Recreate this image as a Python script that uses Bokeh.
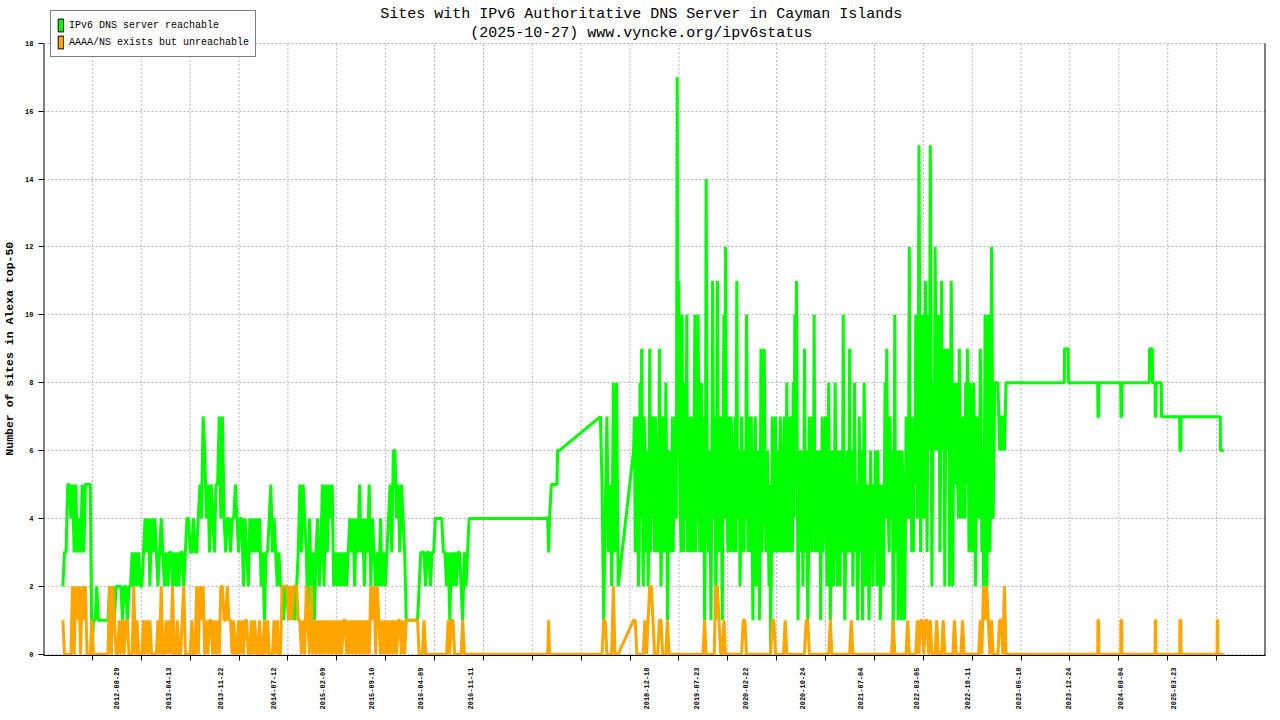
import math
import pandas as pd
from bokeh.plotting import figure
from bokeh.models import (ColumnDataSource, FixedTicker, Range1d, Legend,
                          LegendItem, Label)
from bokeh.embed import file_html
from bokeh.resources import INLINE

# ---------------- data ----------------
title_lines = ["Sites with IPv6 Authoritative DNS Server in Cayman Islands",
               "(2025-10-27) www.vyncke.org/ipv6status"]
y_label = "Number of sites in Alexa top-50"
series_names = ["IPv6 DNS server reachable", "AAAA/NS exists but unreachable"]

x_start = "2011-10-17"
x_end = "2026-04-26 12:00"
y_ticks = [0, 2, 4, 6, 8, 10, 12, 14, 16, 18]
tick_labels = ["2012-08-29", "2013-04-13", "2013-11-22", "2014-07-12", "2015-02-09",
               "2015-09-10", "2016-04-09", "2016-11-11", "2018-12-18", "2019-07-23",
               "2020-02-22", "2020-10-24", "2021-07-04", "2022-03-05", "2022-10-11",
               "2023-05-18", "2023-12-24", "2024-08-04", "2025-03-23"]

# segment A: weekly samples from 2012-01-09
seg_a_start = "2012-01-09"
green_a = [2, 3, 3, 5, 5, 4, 5, 3, 5, 3, 4, 3, 5, 3, 5, 5, 5, 5, 0,
           1, 1, 2, 1, 1, 1, 1, 1, 1, 1, 2, 0, 2, 1, 2, 2,
           2, 2, 1, 2, 2, 1, 2, 2, 3, 2, 3, 2, 3, 2, 2, 3,
           4, 3, 4, 2, 4, 3, 4,
           3, 2, 3, 4, 3, 2, 3, 2, 3, 3, 2, 3, 2, 3, 2, 3, 3, 2, 3,
           4, 4, 3, 3, 4, 3, 3, 4,
           5, 4, 7, 6, 4, 5, 3, 5, 4, 3, 5, 5, 7, 4, 7,
           4, 3, 4, 4, 3, 4, 4, 5, 4, 3, 4,
           4, 2, 4, 3, 2, 4, 3, 4, 3, 4, 3, 4,
           2, 3, 1, 3, 3, 4, 5, 3, 4, 3, 2, 3, 2,
           2, 1, 2, 2, 1, 2, 1, 2, 1, 2,
           3, 5, 3, 5, 4, 3, 1, 4, 2, 3, 1, 3, 4, 2, 3,
           5, 2, 5, 3, 5, 4, 5, 2, 3,
           2, 3, 2, 3, 2, 3, 2, 3,
           4, 3, 4, 2, 4, 3, 5, 3, 4, 2, 4, 3, 5, 2, 4,
           3, 2, 3, 2, 4, 2, 3, 2, 3,
           4, 5, 3, 6, 6, 4, 5, 3, 5, 4, 3,
           1, 1, 1, 1, 1, 1, 1, 1, 2, 3, 3,
           3, 2, 3, 3, 2, 3, 3, 4, 4, 4, 4, 4, 3,
           3, 2, 3, 1, 3, 2, 3, 2, 3, 3, 2, 1, 3, 2, 3]
orange_a = [1, 0, 0, 0, 0, 0, 2, 0, 2, 1, 2, 0, 2, 1, 2, 0, 0, 0, 1, 0,
            0, 0, 0, 0, 0, 0, 0, 0, 0, 2, 0, 2, 1,
            0, 0, 1, 0, 1, 0, 1, 1, 0, 0, 0, 2, 0, 1, 0, 0,
            0, 1, 0, 1, 0, 1, 0, 0, 0, 0, 1, 0, 2, 0,
            0, 1, 0, 1, 0, 2, 0, 0, 1, 0, 0, 1, 2, 0, 0, 0, 0, 1, 0, 0,
            2, 0, 2, 1, 2, 0, 1, 0, 1, 1, 0, 1, 0, 1, 0, 2, 2,
            1, 1, 2, 1, 1, 0, 1, 0, 0, 1, 0,
            1, 0, 1, 1, 0, 0, 1, 0, 1, 0, 0, 1,
            0, 0, 1, 0, 1, 0, 0, 0, 1, 0, 1, 0, 0,
            2, 2, 2, 2, 1, 2, 1, 2, 2, 2, 1, 1,
            0, 1, 0, 2, 1, 0, 2, 0, 1, 0, 1, 0, 1, 0, 1, 0, 1, 0, 1, 0, 1, 0,
            1, 0, 1, 0, 1, 1, 0, 1, 0, 1, 0, 1, 0, 1, 0, 1, 0, 1, 0, 1,
            0, 2, 1, 2, 0, 2, 1, 0, 1,
            0, 1, 0, 1, 0, 1, 0, 1, 0, 1, 1, 0, 1, 0,
            1, 1, 1, 1, 1, 1, 1, 1,
            0, 0, 0, 1, 0, 0, 0, 0, 0, 0, 0, 0, 0, 0, 0, 0, 0, 0,
            1, 0, 1, 1, 0, 0, 0, 0, 0, 1, 0, 0, 0]

# segment B: sparse points across the 2016-2018 plateau
seg_b_dates = ["2016-11-07", "2017-10-14", "2017-10-18", "2017-10-22",
               "2017-10-30", "2017-11-23", "2017-11-26", "2017-12-03"]
green_b = [4, 4, 3, 4, 5, 5, 6, 6]
orange_b = [0, 0, 1, 0, 0, 0, 0, 0]

# segment C: weekly samples from 2018-05-31
seg_c_start = "2018-05-31"
green_c = [7, 5, 1, 4, 7, 3, 5, 2, 8, 3, 8, 2]
orange_c = [0, 0, 1, 1, 0, 0, 0, 0, 2, 0, 0, 0]

# segment D: weekly samples from 2018-10-22 (green also has mid-week readings)
seg_d_start = "2018-10-22"
green_d = [6, 3, 7, 2, 8, 9, 2, 6, 4, 2, 9, 5, 7, 3, 6, 4, 9, 2, 7, 3,
           8, 1, 6, 4, 7, 5, 7, 17, 11, 4, 10, 3, 8, 10, 5, 3,
           7, 4, 10, 5, 10, 3, 8, 5, 1, 14, 4,
           6, 1, 11, 4, 1, 11, 3, 7, 1, 10, 12, 4, 7, 3,
           6, 3, 7, 11, 5, 2, 7, 4, 6, 10, 3, 6,
           7, 1, 5, 2, 6, 1, 9, 4, 9, 3, 6, 2, 0, 7, 3, 7, 4,
           3, 7, 4, 6, 3, 8, 5, 7, 4, 8, 10, 11, 1, 6,
           5, 2, 9, 4, 1, 7, 4, 7, 10, 5, 6, 3, 1, 7, 4,
           7, 2, 8, 1, 6, 2, 8, 3, 6, 2, 5, 10, 1,
           5, 3, 9, 4, 2, 8, 3, 1, 7, 4, 1, 8, 2, 5,
           1, 6, 3, 5, 6, 2, 4, 1, 5, 2, 8, 9, 4, 7, 4, 0, 10, 5,
           1, 6, 1, 5, 1, 7, 4, 12, 7, 5, 7, 10, 4,
           15, 3, 10, 4, 11, 3, 10, 15, 2,
           8, 12, 6, 10, 3, 11, 7, 2, 9, 7, 2, 11, 2, 8, 7,
           5, 9, 4, 7, 5, 8, 9, 3, 8, 3, 8, 2, 7,
           6, 9, 3, 2, 10, 2, 10, 3, 12, 4,
           8, 8, 8, 6, 7, 7, 6, 8]
green_d_mid = [7, 4, 6, 3, 4, 5, 7, 3, 6, 4,
               3, 4, 6, 7, 3, 3, 5, 4, 6, 4,
               5, 3, 3, 3, 3, 4, 4, 7, 6, 3,
               6, 5, 4, 3, 7, 5, 3, 6, 3, 4,
               6, 5, 3, 7, 4, 7, 3, 4, 5, 6,
               7, 4, 6, 5, 4, 6, 4, 7, 3, 6,
               7, 4, 5, 3, 4, 6, 4, 3, 3, 4,
               6, 7, 3, 4, 6, 7, 3, 5, 4, 3,
               5, 6, 5, 4, 5, 3, 5, 4, 3, 6,
               5, 3, 3, 7, 4, 3, 3, 6, 3, 4,
               5, 6, 4, 3, 6, 4, 3, 6, 3, 5,
               3, 4, 3, 3, 5, 6, 4, 3, 5, 4,
               5, 4, 3, 5, 4, 5, 2, 4, 6, 3,
               5, 3, 6, 4, 3, 6, 4, 5, 5, 3,
               3, 6, 4, 5, 4, 3, 3, 4, 2, 3,
               4, 6, 5, 3, 4, 5, 4, 6, 3, 5,
               6, 4, 3, 6, 4, 3, 6, 4, 3, 6,
               5, 4, 3, 3, 5, 8, 7, 9, 6, 8,
               7, 9, 7, 6, 9, 6, 6, 9, 7, 8,
               6, 6, 9, 6, 6, 9, 7, 8, 7, 5,
               8, 4, 6, 5, 4, 4, 5, 7, 5, 6,
               5, 6, 5, 4, 4, 7, 6, 5, 7, 4,
               7, 5, 8, 6, 8, 8, 7, 7, 6, 7,
               7]
orange_d = [1, 1, 0, 0, 0, 0, 0, 1, 0, 1, 2, 2, 1, 0, 0, 0, 1, 1, 0, 0,
            0, 1, 0, 0, 0, 0, 0, 0, 0, 0, 0, 0, 0, 0, 0, 0, 0, 0, 0, 0,
            0, 0, 0, 0, 1, 0, 0, 0, 0, 0, 0, 2, 2, 1, 0, 0, 1, 0, 0, 0,
            0, 0, 0, 0, 0, 0, 0, 0, 1, 1, 0, 0, 0, 0, 0, 0, 0, 0, 0, 0,
            0, 0, 0, 0, 0, 0, 1, 1, 0, 0, 0, 0, 0, 0, 1, 0, 0, 0, 0, 0,
            0, 0, 0, 0, 0, 0, 0, 1, 1, 0, 0, 0, 0, 0, 0, 0, 0, 0, 0, 0,
            0, 0, 1, 0, 0, 0, 0, 0, 0, 0, 0, 0, 0, 0, 0, 1, 0, 0, 0, 0,
            0, 0, 0, 0, 0, 0, 0, 0, 0, 0, 0, 0, 0, 0, 0, 0, 0, 0, 0, 0,
            0, 1, 0, 0, 0, 0, 0, 0, 0, 0, 1, 0, 0, 0, 0, 0, 1, 0, 1, 1,
            0, 1, 1, 0, 1, 0, 0, 0, 1, 0, 0, 0, 1, 0, 0, 0, 0, 0, 0, 1,
            0, 0, 0, 0, 1, 0, 0, 0, 0, 0, 0, 0, 0, 0, 0, 1, 0, 2, 1, 2,
            1, 0, 1, 0, 0, 0, 0, 1, 1, 0, 2, 0]

# segment E: sparse points across the 2023-2025 plateau
green_e_dates = ["2023-04-03", "2023-12-05", "2023-12-06", "2023-12-22", "2023-12-23",
                 "2024-04-28", "2024-04-29", "2024-05-02", "2024-05-03",
                 "2024-08-06", "2024-08-07", "2024-08-10", "2024-08-11",
                 "2024-12-08", "2024-12-09", "2024-12-21", "2024-12-22",
                 "2025-01-02", "2025-01-03", "2025-01-05", "2025-01-06",
                 "2025-01-29", "2025-01-30",
                 "2025-04-19", "2025-04-20", "2025-04-24", "2025-04-25",
                 "2025-10-12", "2025-10-13", "2025-10-27"]
green_e = [8, 8, 9, 9, 8,
           8, 7, 7, 8,
           8, 7, 7, 8,
           8, 9, 9, 8,
           8, 7, 7, 8,
           8, 7,
           7, 6, 6, 7,
           7, 6, 6]
orange_e_dates = ["2023-04-03",
                  "2024-04-28", "2024-04-29", "2024-05-02", "2024-05-03",
                  "2024-08-06", "2024-08-07", "2024-08-10", "2024-08-11",
                  "2025-01-02", "2025-01-03", "2025-01-05", "2025-01-06",
                  "2025-04-19", "2025-04-20", "2025-04-24", "2025-04-25",
                  "2025-09-28", "2025-09-29", "2025-10-01", "2025-10-02",
                  "2025-10-27"]
orange_e = [0,
            0, 1, 1, 0,
            0, 1, 1, 0,
            0, 1, 1, 0,
            0, 1, 1, 0,
            0, 1, 1, 0,
            0]

green_color = "#00ff00"
orange_color = "#ffa500"
grid_color = "#b4b4b4"

# ---------------- assemble ----------------
def every(start, vals, freq="7D"):
    return list(pd.date_range(start, periods=len(vals), freq=freq))

green_d_all = []
for i, v in enumerate(green_d):
    green_d_all.append(v)
    if i < len(green_d_mid):
        green_d_all.append(green_d_mid[i])

head = (every(seg_a_start, green_a) + list(pd.to_datetime(seg_b_dates))
        + every(seg_c_start, green_c))
g_x = pd.DatetimeIndex(head + every(seg_d_start, green_d_all, "84h")
                       + list(pd.to_datetime(green_e_dates)))
g_y = green_a + green_b + green_c + green_d_all + green_e
o_x = pd.DatetimeIndex(head + every(seg_d_start, orange_d)
                       + list(pd.to_datetime(orange_e_dates)))
o_y = orange_a + orange_b + orange_c + orange_d + orange_e

src_g = ColumnDataSource(data=dict(x=g_x.values, y=g_y))
src_o = ColumnDataSource(data=dict(x=o_x.values, y=o_y))


def ms(d):
    return int(pd.Timestamp(d).value // 10**6)


x0, x1 = ms(x_start), ms(x_end)
grid_ticks = [x0 + (x1 - x0) * i / 25 for i in range(1, 25)]
label_ticks = [ms(d) for d in tick_labels]
src_grid = ColumnDataSource(data=dict(x=grid_ticks))
src_edges = ColumnDataSource(data=dict(x=[x0, x1]))

FONT = "Liberation Mono"
y_top = y_ticks[-1] + 43 / 34.0   # room above the top tick for title and legend

p = figure(width=1272, height=712, x_axis_type="linear",
           x_range=Range1d(x0, x1), y_range=Range1d(-0.04, y_top),
           output_backend="svg", toolbar_location=None,
           min_border_left=43, min_border_right=7, min_border_top=0,
           min_border_bottom=57)
p.outline_line_color = None
p.background_fill_color = "white"
p.border_fill_color = "white"
p.title.text = ""
p.title.standoff = 0

# horizontal grid via the grid model, vertical grid drawn only up to the top tick
p.ygrid.grid_line_color = grid_color
p.ygrid.grid_line_dash = "2 2"
p.ygrid.grid_line_width = 1
p.xgrid.visible = False
p.segment(x0="x", x1="x", y0=y_ticks[0], y1=y_ticks[-1], source=src_grid,
          line_color=grid_color, line_dash="2 2", line_width=1)
# left axis line and right border (top tick to bottom)
p.segment(x0="x", x1="x", y0=-0.04, y1=y_ticks[-1], source=src_edges,
          line_color="black", line_width=2)

# x axis: minor ticks = grid positions, major ticks = dated labels
xa = p.xaxis[0]
xa.axis_label = None
xa.axis_label_standoff = 0
xa.ticker = FixedTicker(ticks=label_ticks, minor_ticks=grid_ticks)
xa.major_label_overrides = dict(zip(label_ticks, tick_labels))
xa.major_label_orientation = math.pi / 2
xa.major_tick_out = 0
xa.major_tick_in = 0
xa.minor_tick_out = 5
xa.minor_tick_in = 0
xa.minor_tick_line_color = "black"
xa.major_label_text_font = FONT
xa.major_label_text_font_size = "7px"
xa.major_label_text_font_style = "bold"
xa.major_label_text_color = "black"
xa.major_label_standoff = 7
xa.axis_line_color = "black"

# y axis
ya = p.yaxis[0]
ya.ticker = FixedTicker(ticks=y_ticks)
ya.major_tick_out = 5
ya.major_tick_in = 0
ya.minor_tick_out = 0
ya.minor_tick_in = 0
ya.major_tick_line_color = "black"
ya.major_label_text_font = FONT
ya.major_label_text_font_size = "7px"
ya.major_label_text_font_style = "bold"
ya.major_label_text_color = "black"
ya.major_label_standoff = 5
# trailing no-break spaces nudge the centred label down to the plotting area's centre
ya.axis_label = y_label + "\u00a0" * 6
ya.axis_label_text_font = FONT
ya.axis_label_text_font_size = "11.5px"
ya.axis_label_text_font_style = "bold"
ya.axis_label_text_color = "black"
ya.axis_label_standoff = 6
ya.axis_line_color = None

# data lines
p.line(x="x", y="y", source=src_g, line_color=green_color, line_width=3)
p.line(x="x", y="y", source=src_o, line_color=orange_color, line_width=3)

# title (two centred lines), positions in px from the frame's bottom-left
for txt, yy in zip(title_lines, (641, 622)):
    p.add_layout(Label(x=597.7, y=yy, x_units="screen", y_units="screen",
                       text=txt, text_align="center", text_baseline="middle",
                       text_font=FONT, text_font_size="15px", text_color="black"))

# legend swatches (renderers with a single undrawn point)
nan = float("nan")
sw_g = p.quad(left=[nan], right=[nan], top=[nan], bottom=[nan],
              fill_color=green_color, line_color="black", line_width=1)
sw_o = p.quad(left=[nan], right=[nan], top=[nan], bottom=[nan],
              fill_color=orange_color, line_color="black", line_width=1)
legend = Legend(items=[LegendItem(label=series_names[0], renderers=[sw_g]),
                       LegendItem(label=series_names[1], renderers=[sw_o])],
                location=(7, 598), glyph_width=7, glyph_height=16,
                label_height=16, spacing=1, padding=6, margin=0,
                label_standoff=5, label_text_font=FONT,
                label_text_font_size="10px", label_text_color="black",
                border_line_color="black", border_line_width=1,
                background_fill_color="white", background_fill_alpha=1)
p.add_layout(legend)

open("out.html", "w").write(file_html(p, INLINE))
